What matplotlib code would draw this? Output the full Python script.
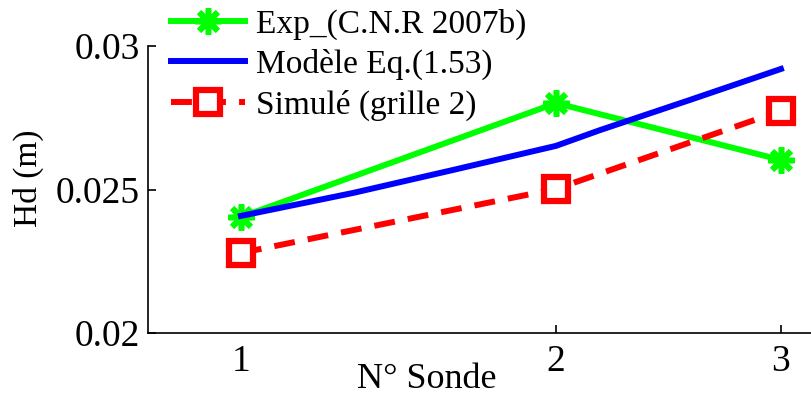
import matplotlib
matplotlib.use("Agg")
import matplotlib.pyplot as plt

plt.rcParams['font.family'] = ['Liberation Serif', 'DejaVu Serif']

# positions of the probes on the x axis (labels 1, 2, 3)
probe_pos = [1.0, 2.0, 2.714]
probe_labels = ['1', '2', '3']

exp_vals = [0.02404, 0.02801, 0.02603]
sim_vals = [0.02279, 0.02502, 0.02774]

model_x = [1.0, 1.356, 1.673, 2.0, 2.14, 2.425, 2.714]
model_y = [0.02408, 0.02488, 0.02568, 0.02652, 0.02707, 0.02812, 0.0292]

yticks = [0.02, 0.025, 0.03]
ytick_labels = ['0.02', '0.025', '0.03']

fig = plt.figure(figsize=(8.11, 3.96), dpi=100)
ax = fig.add_axes([148/811, 1-333/396, 1-148/811, (333-46)/396])

l1, = ax.plot(probe_pos, exp_vals, color=(0, 1, 0), lw=4.3, marker=(8, 2, 0),
              ms=19, mew=4, mec=(0, 1, 0), label='Exp_(C.N.R 2007b)', zorder=3)
l2, = ax.plot(model_x, model_y, color=(0, 0, 1), lw=4.3, label='Modèle Eq.(1.53)', zorder=3)
l3, = ax.plot(probe_pos, sim_vals, color=(1, 0, 0), lw=4.3, ls=(0, (3.5, 2.2)),
              marker='s', ms=17.5, mew=4.5, mfc='white', mec=(1, 0, 0),
              label='Simulé (grille 2)', zorder=4)

ax.set_xlim(0.705, 2.8095)
ax.set_ylim(0.02, 0.03)
ax.set_xticks(probe_pos)
ax.set_xticklabels(probe_labels)
ax.set_yticks(yticks)
ax.set_yticklabels(ytick_labels)
ax.xaxis.get_major_ticks()[0].tick1line.set_visible(False)
for s in ['top', 'right']:
    ax.spines[s].set_visible(False)
for s in ['left', 'bottom']:
    ax.spines[s].set_linewidth(1.2)
ax.tick_params(direction='in', length=6, width=1.2, labelsize=27, pad=6)
ax.tick_params(axis='x', pad=8)

fig.text(427/811, 1-379/396, 'N° Sonde', fontsize=26, ha='center', va='center')
fig.text(28/811, 1-178/396, 'Hd (m)', fontsize=24, ha='center', va='center', rotation=90)

leg = fig.legend(handles=[l1, l2, l3], loc='upper left',
                 bbox_to_anchor=(168/811, 1 - 5/396), frameon=False, fontsize=24,
                 handlelength=2.2, handletextpad=0.35, borderpad=0.1,
                 borderaxespad=0, labelspacing=0.28)

fig.savefig('out.png', dpi=100)
